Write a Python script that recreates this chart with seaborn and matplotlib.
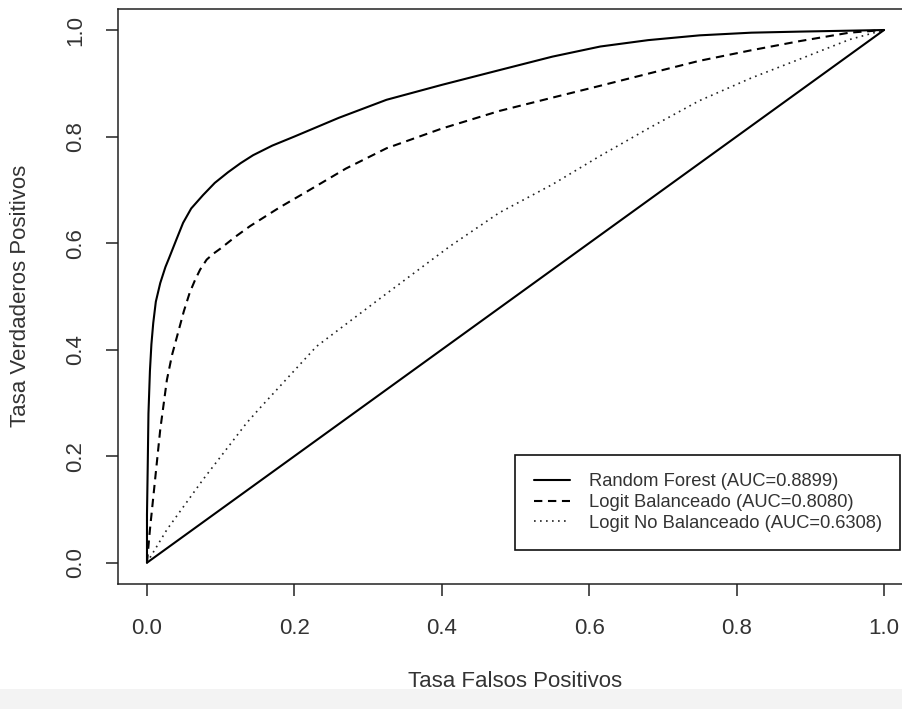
import numpy as np
import pandas as pd
import matplotlib
matplotlib.use("Agg")
import matplotlib.pyplot as plt
from matplotlib.patches import Rectangle
import seaborn as sns

# ROC curve points
rf_fpr = [0.0, 0.0, 0.001, 0.002, 0.004, 0.006, 0.0085, 0.012, 0.018, 0.025, 0.03, 0.04, 0.049,
          0.06, 0.076, 0.092, 0.11, 0.127, 0.144, 0.17, 0.2, 0.26, 0.325, 0.40, 0.479, 0.55,
          0.615, 0.68, 0.75, 0.82, 0.886, 1.0]
rf_tpr = [0.0, 0.09, 0.18, 0.28, 0.36, 0.41, 0.45, 0.49, 0.525, 0.555, 0.572, 0.607, 0.638,
          0.665, 0.69, 0.713, 0.733, 0.75, 0.765, 0.783, 0.80, 0.835, 0.869, 0.897, 0.925, 0.95,
          0.969, 0.981, 0.99, 0.995, 0.997, 1.0]

lb_fpr = [0.0, 0.004, 0.011, 0.018, 0.027, 0.034, 0.042, 0.05, 0.058, 0.065, 0.072, 0.081, 0.09,
          0.10, 0.12, 0.14, 0.18, 0.221, 0.27, 0.325, 0.40, 0.478, 0.55, 0.614, 0.68, 0.749,
          0.82, 0.885, 0.953, 1.0]
lb_tpr = [0.0, 0.062, 0.156, 0.25, 0.343, 0.39, 0.431, 0.472, 0.507, 0.53, 0.55, 0.569, 0.58,
          0.59, 0.612, 0.632, 0.667, 0.70, 0.74, 0.778, 0.815, 0.848, 0.873, 0.895, 0.918, 0.942,
          0.962, 0.979, 0.995, 1.0]

lnb_fpr = [0.0, 0.027, 0.076, 0.135, 0.153, 0.23, 0.32, 0.411, 0.478, 0.55, 0.614, 0.68, 0.749,
           0.82, 0.885, 0.953, 1.0]
lnb_tpr = [0.0, 0.062, 0.156, 0.262, 0.29, 0.406, 0.50, 0.594, 0.657, 0.71, 0.763, 0.815, 0.867,
           0.91, 0.945, 0.982, 1.0]

diag = [0.0, 1.0]

labels = ["Random Forest (AUC=0.8899)",
          "Logit Balanceado (AUC=0.8080)",
          "Logit No Balanceado (AUC=0.6308)"]
ticks = [0.0, 0.2, 0.4, 0.6, 0.8, 1.0]
tick_labels = ["0.0", "0.2", "0.4", "0.6", "0.8", "1.0"]

sns.set_style("ticks")
plt.rcParams["font.family"] = ["Liberation Sans", "DejaVu Sans"]

W, H = 902, 709
fig = plt.figure(figsize=(W / 100, H / 100), dpi=100)
# plot region (R style, cut off at the right edge like the original)
ax = fig.add_axes([117.5 / W, 125 / H, 796 / W, 575.3 / H])

sns.lineplot(x=rf_fpr, y=rf_tpr, ax=ax, color="black", lw=1.5, sort=False,
             estimator=None, label=labels[0], legend=False)
sns.lineplot(x=lb_fpr, y=lb_tpr, ax=ax, color="black", lw=1.5, sort=False,
             estimator=None, label=labels[1], legend=False, linestyle=(0, (4, 2.7)))
sns.lineplot(x=lnb_fpr, y=lnb_tpr, ax=ax, color="#222222", lw=1.2, sort=False,
             estimator=None, label=labels[2], legend=False, linestyle=(0, (1, 2.6)))
sns.lineplot(x=diag, y=diag, ax=ax, color="black", lw=1.5, sort=False,
             estimator=None, legend=False)

ax.set_xlim(-0.04, 1.04)
ax.set_ylim(-0.04, 1.04)
ax.set_xticks(ticks)
ax.set_xticklabels(tick_labels)
ax.set_yticks(ticks)
ax.set_yticklabels(tick_labels, rotation=90, va="center")

for s in ax.spines.values():
    s.set_color("#222222")
    s.set_linewidth(1.1)
ax.tick_params(axis="both", length=8.5, width=1.1, color="#222222",
               labelsize=16, labelcolor="#333333")
ax.tick_params(axis="x", pad=16)
ax.tick_params(axis="y", pad=14)

ax.set_xlabel("Tasa Falsos Positivos", fontsize=16, color="#333333")
ax.set_ylabel("Tasa Verdaderos Positivos", fontsize=16, color="#333333")
ax.xaxis.set_label_coords(0.5, -0.169)
ax.xaxis.label.set_va("center")
ax.yaxis.set_label_coords(-97.5 / 796, 0.5)
ax.yaxis.label.set_va("center")

handles, labs = ax.get_legend_handles_labels()
leg = ax.legend(handles[:3], labs[:3], loc="lower right",
                bbox_to_anchor=(900 / W, (H - 550) / H), bbox_transform=fig.transFigure,
                fontsize=13.2, frameon=True, fancybox=False, framealpha=1,
                edgecolor="#111111", labelspacing=0.2, borderpad=1.0,
                handlelength=2.0, handletextpad=1.0, borderaxespad=0)
leg.get_frame().set_linewidth(1.2)
for t in leg.get_texts():
    t.set_color("#333333")

# light grey strip along the bottom of the screenshot
fig.add_artist(Rectangle((0, 0), 1, 20 / H, transform=fig.transFigure,
                         facecolor="#f3f3f3", edgecolor="none", zorder=-5))

fig.savefig("out.png", dpi=100)
